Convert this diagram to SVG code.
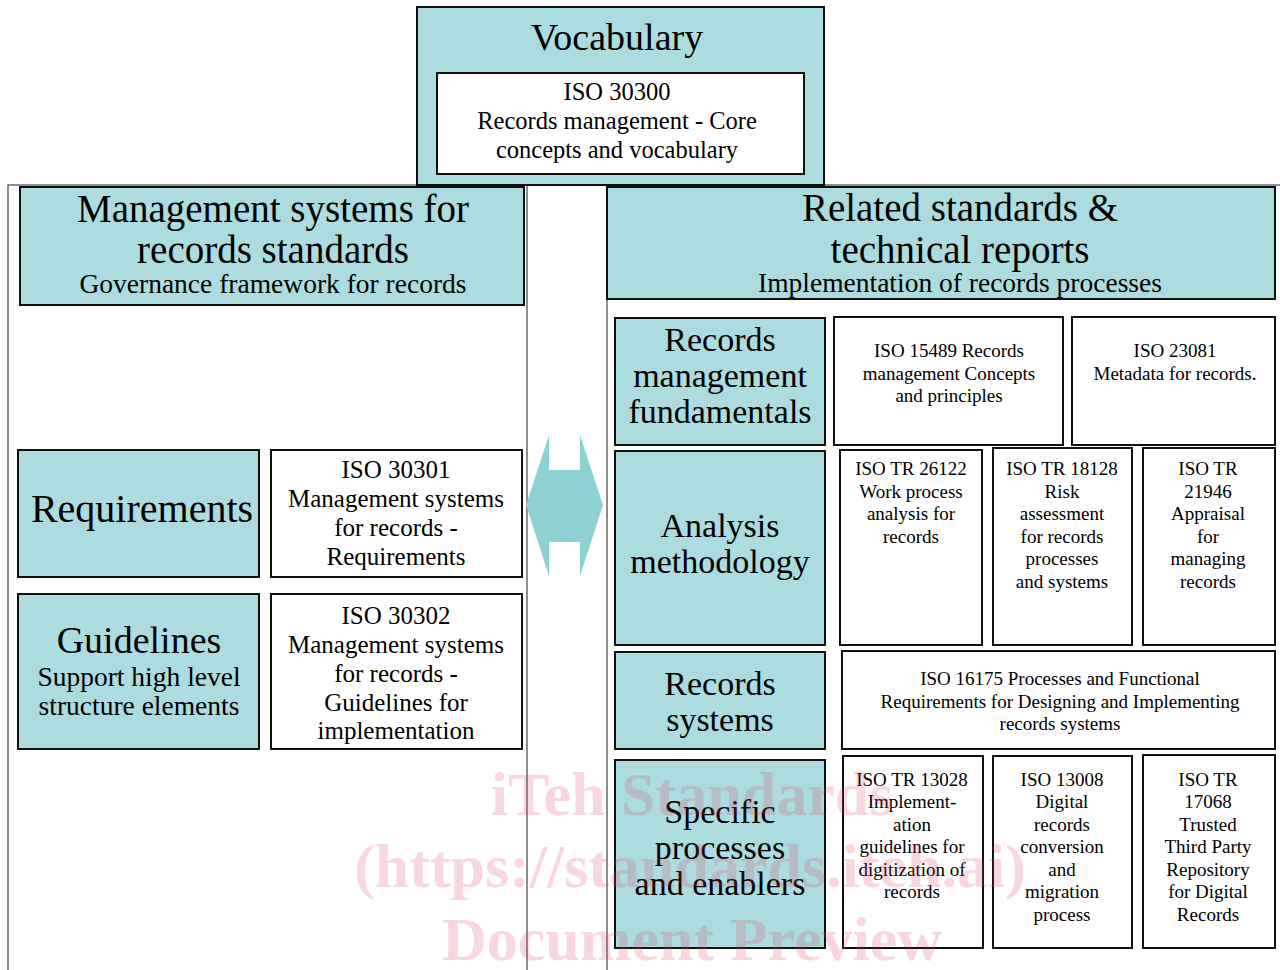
<svg xmlns="http://www.w3.org/2000/svg" width="1280" height="970" viewBox="0 0 1280 970">
<style>
  .panel{fill:#ffffff;stroke:#444;stroke-width:1.2}
  .teal{fill:#acdcdf;stroke:#111;stroke-width:2}
  .white{fill:#ffffff;stroke:#111;stroke-width:2}
  text{font-family:"Liberation Serif","Times New Roman",serif;fill:#000;text-anchor:middle}
  .t38{font-size:38px}
  .t39{font-size:39px}
  .t40{font-size:40px}
  .t34{font-size:34px}
  .t27{font-size:27.5px}
  .t25{font-size:25px}
  .t24{font-size:24.5px}
  .t19{font-size:19px}
  .wm{font-family:"Liberation Serif","Times New Roman",serif;font-weight:bold;font-size:62px;fill:#dc3c5a;fill-opacity:0.2}
</style>
<rect width="1280" height="970" fill="#ffffff"/>
<g id="panels">
  <rect class="panel" x="8" y="185" width="519" height="790"/>
  <rect class="panel" x="607" y="185" width="680" height="790"/>
</g>
<g id="vocabulary">
  <rect class="teal" x="417" y="7" width="407" height="178"/>
  <text class="t38" x="617" y="50">Vocabulary</text>
</g>
<g id="iso30300">
  <rect class="white" x="437" y="73" width="367" height="101"/>
  <text class="t24" x="617" y="100">ISO 30300</text>
  <text class="t24" x="617" y="129">Records management - Core</text>
  <text class="t24" x="617" y="158">concepts and vocabulary</text>
</g>
<g id="mgmt-header">
  <rect class="teal" x="20" y="187" width="504" height="118"/>
  <text class="t39" x="273" y="222">Management systems for</text>
  <text class="t39" x="273" y="263">records standards</text>
  <text class="t27" x="273" y="293">Governance framework for records</text>
</g>
<g id="related-header">
  <rect class="teal" x="607" y="187" width="668" height="112"/>
  <text class="t39" x="960" y="221">Related standards &amp;</text>
  <text class="t39" x="960" y="263">technical reports</text>
  <text class="t27" x="960" y="292">Implementation of records processes</text>
</g>
<g id="requirements">
  <rect class="teal" x="18" y="450" width="241" height="127"/>
  <text class="t40" x="142" y="522">Requirements</text>
</g>
<g id="iso30301">
  <rect class="white" x="271" y="450" width="251" height="127"/>
  <text class="t25" x="396" y="478">ISO 30301</text>
  <text class="t25" x="396" y="507">Management systems</text>
  <text class="t25" x="396" y="536">for records -</text>
  <text class="t25" x="396" y="565">Requirements</text>
</g>
<g id="guidelines">
  <rect class="teal" x="18" y="594" width="241" height="155"/>
  <text class="t38" x="139" y="653">Guidelines</text>
  <text class="t27" x="139" y="686">Support high level</text>
  <text class="t27" x="139" y="715">structure elements</text>
</g>
<g id="iso30302">
  <rect class="white" x="271" y="594" width="251" height="155"/>
  <text class="t25" x="396" y="624">ISO 30302</text>
  <text class="t25" x="396" y="653">Management systems</text>
  <text class="t25" x="396" y="682">for records -</text>
  <text class="t25" x="396" y="711">Guidelines for</text>
  <text class="t25" x="396" y="739">implementation</text>
</g>
<g id="connectors">
  <polygon points="526,505 549,435 549,470 580,470 580,435 603,505 580,576 580,542 549,542 549,576" fill="#8fd1d3"/>
</g>
<g id="fundamentals">
  <rect class="teal" x="615" y="318" width="210" height="127"/>
  <text class="t34" x="720" y="351">Records</text>
  <text class="t34" x="720" y="387">management</text>
  <text class="t34" x="720" y="423">fundamentals</text>
</g>
<g id="iso15489">
  <rect class="white" x="834" y="317" width="229" height="128"/>
  <text class="t19" x="949" y="357">ISO 15489 Records</text>
  <text class="t19" x="949" y="380">management Concepts</text>
  <text class="t19" x="949" y="402">and principles</text>
</g>
<g id="iso23081">
  <rect class="white" x="1072" y="317" width="203" height="128"/>
  <text class="t19" x="1175" y="357">ISO 23081</text>
  <text class="t19" x="1175" y="380">Metadata for records.</text>
</g>
<g id="analysis">
  <rect class="teal" x="615" y="451" width="210" height="194"/>
  <text class="t34" x="720" y="537">Analysis</text>
  <text class="t34" x="720" y="573">methodology</text>
</g>
<g id="iso26122">
  <rect class="white" x="840" y="450" width="142" height="195"/>
  <text class="t19" x="911" y="475">ISO TR 26122</text>
  <text class="t19" x="911" y="498">Work process</text>
  <text class="t19" x="911" y="520">analysis for</text>
  <text class="t19" x="911" y="543">records</text>
</g>
<g id="iso18128">
  <rect class="white" x="993" y="448" width="139" height="197"/>
  <text class="t19" x="1062" y="475">ISO TR 18128</text>
  <text class="t19" x="1062" y="498">Risk</text>
  <text class="t19" x="1062" y="520">assessment</text>
  <text class="t19" x="1062" y="543">for records</text>
  <text class="t19" x="1062" y="565">processes</text>
  <text class="t19" x="1062" y="588">and systems</text>
</g>
<g id="iso21946">
  <rect class="white" x="1143" y="448" width="132" height="197"/>
  <text class="t19" x="1208" y="475">ISO TR</text>
  <text class="t19" x="1208" y="498">21946</text>
  <text class="t19" x="1208" y="520">Appraisal</text>
  <text class="t19" x="1208" y="543">for</text>
  <text class="t19" x="1208" y="565">managing</text>
  <text class="t19" x="1208" y="588">records</text>
</g>
<g id="records-systems">
  <rect class="teal" x="615" y="652" width="210" height="97"/>
  <text class="t34" x="720" y="695">Records</text>
  <text class="t34" x="720" y="731">systems</text>
</g>
<g id="iso16175">
  <rect class="white" x="842" y="651" width="433" height="98"/>
  <text class="t19" x="1060" y="685">ISO 16175 Processes and Functional</text>
  <text class="t19" x="1060" y="708">Requirements for Designing and Implementing</text>
  <text class="t19" x="1060" y="730">records systems</text>
</g>
<g id="specific">
  <rect class="teal" x="615" y="760" width="210" height="188"/>
  <text class="t34" x="720" y="823">Specific</text>
  <text class="t34" x="720" y="859">processes</text>
  <text class="t34" x="720" y="895">and enablers</text>
</g>
<g id="iso13028">
  <rect class="white" x="843" y="756" width="140" height="192"/>
  <text class="t19" x="912" y="786">ISO TR 13028</text>
  <text class="t19" x="912" y="808">Implement-</text>
  <text class="t19" x="912" y="831">ation</text>
  <text class="t19" x="912" y="853">guidelines for</text>
  <text class="t19" x="912" y="876">digitization of</text>
  <text class="t19" x="912" y="898">records</text>
</g>
<g id="iso13008">
  <rect class="white" x="993" y="756" width="139" height="192"/>
  <text class="t19" x="1062" y="786">ISO 13008</text>
  <text class="t19" x="1062" y="808">Digital</text>
  <text class="t19" x="1062" y="831">records</text>
  <text class="t19" x="1062" y="853">conversion</text>
  <text class="t19" x="1062" y="876">and</text>
  <text class="t19" x="1062" y="898">migration</text>
  <text class="t19" x="1062" y="921">process</text>
</g>
<g id="iso17068">
  <rect class="white" x="1143" y="755" width="132" height="193"/>
  <text class="t19" x="1208" y="786">ISO TR</text>
  <text class="t19" x="1208" y="808">17068</text>
  <text class="t19" x="1208" y="831">Trusted</text>
  <text class="t19" x="1208" y="853">Third Party</text>
  <text class="t19" x="1208" y="876">Repository</text>
  <text class="t19" x="1208" y="898">for Digital</text>
  <text class="t19" x="1208" y="921">Records</text>
</g>
<g id="watermark">
  <text class="wm" x="692" y="815">iTeh Standards</text>
  <text class="wm" x="690" y="887">(https://standards.iteh.ai)</text>
  <text class="wm" x="692" y="960">Document Preview</text>
</g>
</svg>
